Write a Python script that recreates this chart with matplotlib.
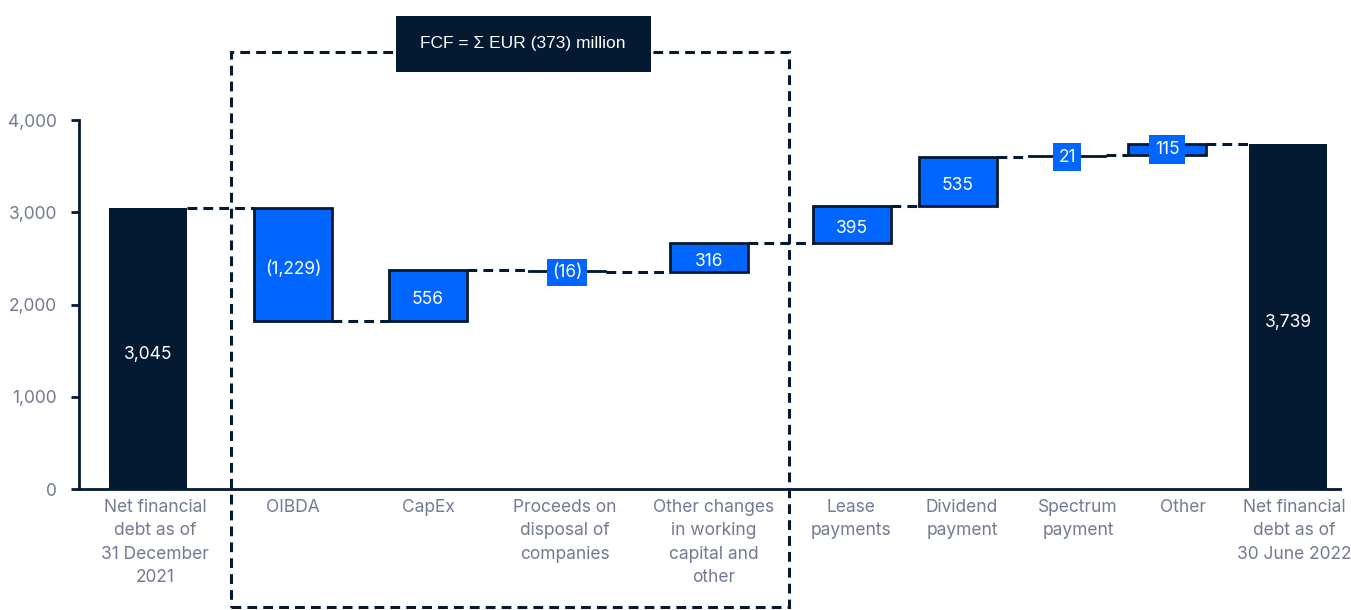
import matplotlib.pyplot as plt
from matplotlib.patches import Rectangle

# data (EUR million)
categories = ['Net financial\ndebt as of\n31 December\n2021', 'OIBDA', 'CapEx',
              'Proceeds on\ndisposal of\ncompanies', 'Other changes\nin working\ncapital and\nother',
              'Lease\npayments', 'Dividend\npayment', 'Spectrum\npayment', 'Other',
              'Net financial\ndebt as of\n30 June 2022']
start_value = 3045
changes = [-1229, 556, -16, 316, 395, 535, 21, 115]
end_value = 3739
change_labels = ['(1,229)', '556', '(16)', '316', '395', '535', '21', '115']
fcf_text = 'FCF = \u03a3 EUR (373) million'

# layout (x in pixels from the y-axis)
bar_x = [69, 214, 349, 488, 630, 773, 879, 988, 1088, 1209]
tick_x = [76, 214, 349, 486, 635, 772, 883, 999, 1104, 1215]
bar_w = 78

navy = '#041a33'
blue = '#0066ff'
grey = '#737a93'
dash = (0, (3.2, 2))

plt.rcParams['font.family'] = ['Inter', 'DejaVu Sans']

fig = plt.figure(figsize=(13.51, 6.10), dpi=100)
ax = fig.add_axes([79 / 1351, 121 / 610, 1261 / 1351, 369 / 610])
ax.set_xlim(0, 1261)
ax.set_ylim(0, 4000)


def label(x, y, s, dy=-3, box=None):
    ax.annotate(s, (x, y), xytext=(0, dy), textcoords='offset points', color='white',
                ha='center', va='center', fontsize=12.5, zorder=6, bbox=box)


# start bar
ax.bar(bar_x[0], start_value, width=bar_w, color=navy, zorder=3)
label(bar_x[0], start_value / 2, '3,045', dy=-4.5)

level = start_value
levels = [level]
for i, ch in enumerate(changes):
    x = bar_x[i + 1]
    lo = min(level, level + ch)
    h = abs(ch)
    if h < 60:
        ax.bar(x, h, bottom=lo, width=bar_w, color=navy, edgecolor=navy, linewidth=0.6, zorder=3)
        label(x, lo + h / 2, change_labels[i], dy=-1,
              box=dict(boxstyle='square,pad=0.3', fc=blue, ec='none'))
    elif h < 200:
        ax.bar(x, h, bottom=lo, width=bar_w, color=blue, edgecolor=navy, linewidth=2, zorder=3)
        label(x, lo + h / 2, change_labels[i], dy=0,
              box=dict(boxstyle='square,pad=0.35', fc=blue, ec='none'))
    else:
        ax.bar(x, h, bottom=lo, width=bar_w, color=blue, edgecolor=navy, linewidth=2, zorder=3)
        label(x, lo + h / 2, change_labels[i])
    level = level + ch
    levels.append(level)

# end bar
ax.bar(bar_x[-1], end_value, width=bar_w, color=navy, zorder=3)
label(bar_x[-1], end_value / 2, '3,739', dy=-4.5)

# connectors
for i in range(len(bar_x) - 1):
    x0 = bar_x[i] + bar_w / 2
    x1 = bar_x[i + 1] - bar_w / 2
    ax.plot([x0, x1], [levels[i], levels[i]], color=navy, lw=2.2, ls=dash, zorder=2)

# FCF dashed box
ax.add_patch(Rectangle((152, -1280), 558, 6015, fill=False, ec=navy, lw=2.2,
                       ls=dash, clip_on=False, zorder=1))
ax.add_patch(Rectangle((317, 4520), 255, 610, fc=navy, ec='none', clip_on=False, zorder=7))
ax.text(444, 4825, fcf_text, color='white', ha='center', va='center', fontsize=12.5,
        family=['Liberation Sans', 'DejaVu Sans'], zorder=8)

# axes styling
for s in ['top', 'right']:
    ax.spines[s].set_visible(False)
ax.spines['left'].set_color(navy)
ax.spines['bottom'].set_color(navy)
ax.spines['left'].set_linewidth(2)
ax.spines['bottom'].set_linewidth(2)
ax.set_yticks([0, 1000, 2000, 3000, 4000])
ax.set_yticklabels(['0', '1,000', '2,000', '3,000', '4,000'])
ax.tick_params(axis='y', colors=navy, labelcolor=grey, labelsize=12.5, length=6, width=2, pad=10)
ax.set_xticks(tick_x)
ax.set_xticklabels(categories)
ax.tick_params(axis='x', length=0, labelcolor=grey, labelsize=12.5, pad=7)
for t in ax.get_xticklabels():
    t.set_linespacing(1.5)

fig.savefig('out.png', dpi=100)
